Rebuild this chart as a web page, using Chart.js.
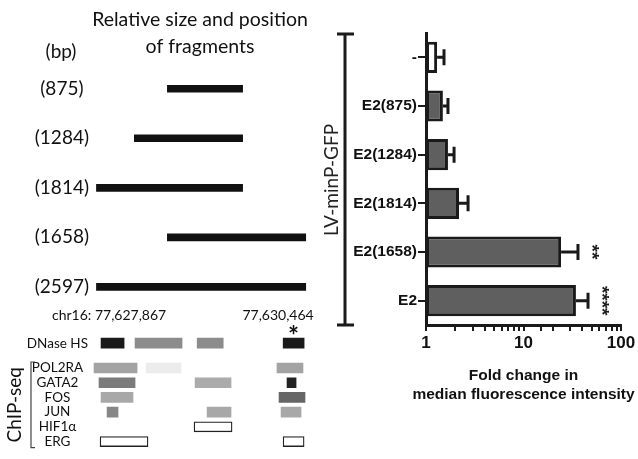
<!DOCTYPE html>
<html>
<head>
<meta charset="utf-8">
<script src="https://cdn.jsdelivr.net/npm/chart.js@4.4.1/dist/chart.umd.min.js"></script>
<style>
  body { margin: 0; background: #fff; }
  #wrap { position: relative; width: 638px; height: 459px; overflow: hidden; background: #fff; }
  canvas { position: absolute; }
  #fragChart { left: 0; top: 0; }
  #trackChart { left: 0; top: 300px; }
  #foldChart { left: 320px; top: 0; }
</style>
</head>
<body>
<div id="wrap">
  <canvas id="fragChart" width="320" height="324"></canvas>
  <canvas id="trackChart" width="320" height="159"></canvas>
  <canvas id="foldChart" width="318" height="459"></canvas>
</div>
<script>
// fragments (bp offsets from chr16:77,627,867)
const fragLabels = ['(875)', '(1284)', '(1814)', '(1658)', '(2597)'];
const fragStart = [880, 470, 0, 880, 0];
const fragEnd = [1814, 1814, 1814, 2597, 2597];
const coordStart = '77,627,867';
const coordEnd = '77,630,464';
const regionLen = 2597;

// DNase / ChIP-seq tracks
const trackNames = ['DNase HS', 'POL2RA', 'GATA2', 'FOS', 'JUN', 'HIF1\u03b1', 'ERG'];
const trackBlocks = [
  [[57, 343], [479, 1062], [1250, 1573], [2317, 2577]],
  [[-30, 504], [616, 1050], [2240, 2563]],
  [[32, 479], [1224, 1670], [2365, 2477]],
  [[57, 454], [2266, 2588]],
  [[132, 268], [1373, 1670], [2291, 2539]],
  [[1211, 1683]],
  [[45, 640], [2316, 2577]]
];
const trackShade = [
  ['#1a1a1a', '#8c8c8c', '#8c8c8c', '#1a1a1a'],
  ['#a3a3a3', '#ececec', '#a3a3a3'],
  ['#7b7b7b', '#ababab', '#222222'],
  ['#a8a8a8', '#666666'],
  ['#878787', '#a8a8a8', '#a8a8a8'],
  ['open'],
  ['open', 'open']
];
// vertical placement of the track rows (DNase row sits a bit apart)
const trackRow = [-1.69, 0, 1, 2, 3, 4, 5];

// reporter assay
const foldLabels = ['-', 'E2(875)', 'E2(1284)', 'E2(1814)', 'E2(1658)', 'E2'];
const foldMean = [1.30, 1.49, 1.68, 2.18, 24.3, 34.5];
const foldErr = [1.53, 1.68, 1.94, 2.70, 36.2, 45.9];
const foldStars = ['', '', '', '', '**', '****'];
const foldTitle = ['Fold change in', 'median fluorescence intensity'];

const calibri = 'Lato';
const arial = '"Liberation Sans", Arial, sans-serif';

const bpLabel = {
  id: 'bpLabel',
  afterDraw(chart) {
    const ctx = chart.ctx;
    ctx.save();
    ctx.fillStyle = '#111';
    ctx.font = '19px ' + calibri;
    ctx.textAlign = 'center';
    ctx.textBaseline = 'middle';
    ctx.fillText('(bp)', 61, 52);
    ctx.restore();
  }
};

new Chart(document.getElementById('fragChart'), {
  type: 'bar',
  data: {
    labels: fragLabels,
    datasets: [{
      data: fragLabels.map((l, i) => [fragStart[i], fragEnd[i]]),
      backgroundColor: '#111',
      barThickness: 7
    }]
  },
  options: {
    indexAxis: 'y',
    responsive: false,
    animation: false,
    layout: { padding: { top: 0, right: 10, left: 0, bottom: 0 } },
    plugins: {
      legend: { display: false },
      tooltip: { enabled: false },
      title: {
        display: true,
        fullSize: false,
        text: ['Relative size and position', 'of fragments'],
        color: '#111',
        font: { family: calibri, size: 19.5, weight: 'normal', lineHeight: 1.4 },
        padding: { top: 6, bottom: 3.4 }
      }
    },
    scales: {
      x: { display: false, min: -80, max: 2650 },
      y: {
        grid: { display: false, drawTicks: false },
        border: { display: false },
        ticks: { crossAlign: 'center', padding: 1, color: '#111', font: { family: calibri, size: 19 } },
        afterFit: s => { s.width = 90; }
      }
    }
  },
  plugins: [bpLabel]
});

const trackPoints = [], trackFill = [], trackEdge = [], trackEdgeW = [];
trackBlocks.forEach((blocks, r) => {
  blocks.forEach((b, j) => {
    const open = trackShade[r][j] === 'open';
    trackPoints.push({ x: b, y: trackRow[r] });
    trackFill.push(open ? '#fff' : trackShade[r][j]);
    trackEdge.push(open ? '#222' : 'rgba(0,0,0,0)');
    trackEdgeW.push(open ? 1.3 : 0);
  });
});

const trackExtras = {
  id: 'trackExtras',
  afterDraw(chart) {
    const { ctx, scales: { x, y } } = chart;
    ctx.save();
    ctx.fillStyle = '#111';
    ctx.font = '14px ' + calibri;
    ctx.textBaseline = 'middle';
    ctx.textAlign = 'left';
    ctx.fillText('chr16: ' + coordStart, 52, 15);
    ctx.textAlign = 'right';
    ctx.fillText(coordEnd, x.getPixelForValue(regionLen) + 8, 15);
    // hypersensitive site marker
    const last = trackBlocks[0][trackBlocks[0].length - 1];
    ctx.textAlign = 'center';
    ctx.textBaseline = 'alphabetic';
    ctx.font = 'bold 26px ' + calibri;
    ctx.fillText('*', x.getPixelForValue((last[0] + last[1]) / 2), 45);
    // ChIP-seq bracket
    const top = y.getPixelForValue(0) - 6, bot = y.getPixelForValue(5) + 6;
    ctx.strokeStyle = '#444';
    ctx.lineWidth = 1.2;
    ctx.beginPath();
    ctx.moveTo(35, top); ctx.lineTo(31, top); ctx.lineTo(31, bot); ctx.lineTo(35, bot);
    ctx.stroke();
    ctx.translate(15, (top + bot) / 2);
    ctx.rotate(-Math.PI / 2);
    ctx.textBaseline = 'middle';
    ctx.font = '19px ' + calibri;
    ctx.fillText('ChIP-seq', 0, 0);
    ctx.restore();
  }
};

new Chart(document.getElementById('trackChart'), {
  type: 'bar',
  data: {
    datasets: [{
      data: trackPoints,
      backgroundColor: trackFill,
      borderColor: trackEdge,
      borderWidth: trackEdgeW,
      borderSkipped: false,
      barThickness: 10
    }]
  },
  options: {
    indexAxis: 'y',
    responsive: false,
    animation: false,
    layout: { padding: { top: 34.2, right: 10, left: 0, bottom: 0 } },
    plugins: { legend: { display: false }, tooltip: { enabled: false } },
    scales: {
      x: { type: 'linear', display: false, min: -80, max: 2650 },
      y: {
        type: 'linear',
        offset: false,
        reverse: true,
        min: -2.3,
        max: 5.5,
        afterBuildTicks: s => { s.ticks = trackRow.map(v => ({ value: v })); },
        grid: { display: false, drawTicks: false },
        border: { display: false },
        ticks: {
          autoSkip: false,
          crossAlign: 'center',
          padding: 2,
          color: '#111',
          font: { family: calibri, size: 13.5 },
          callback: (v, i) => trackNames[i]
        },
        afterFit: s => { s.width = 90; }
      }
    }
  },
  plugins: [trackExtras]
});

const foldExtras = {
  id: 'foldExtras',
  afterDatasetsDraw(chart) {
    const { ctx, chartArea, scales: { x, y } } = chart;
    ctx.save();
    ctx.strokeStyle = '#1a1a1a';
    ctx.fillStyle = '#1a1a1a';
    ctx.lineWidth = 3;
    foldMean.forEach((m, i) => {
      const cy = y.getPixelForValue(i);
      const x0 = x.getPixelForValue(m), x1 = x.getPixelForValue(foldErr[i]);
      ctx.beginPath();
      ctx.moveTo(x0, cy); ctx.lineTo(x1, cy);
      ctx.moveTo(x1, cy - 8); ctx.lineTo(x1, cy + 8);
      ctx.stroke();
      if (foldStars[i]) {
        ctx.save();
        ctx.translate(x1 + 13, cy);
        ctx.rotate(Math.PI / 2);
        ctx.font = 'bold 19px ' + arial;
        ctx.textAlign = 'center';
        ctx.textBaseline = 'middle';
        ctx.fillText(foldStars[i], 0, 0);
        ctx.restore();
      }
    });
    // LV-minP-GFP bracket
    ctx.beginPath();
    ctx.moveTo(17, chartArea.top + 1); ctx.lineTo(34, chartArea.top + 1);
    ctx.moveTo(25, chartArea.top + 1); ctx.lineTo(25, chartArea.bottom);
    ctx.moveTo(17, chartArea.bottom); ctx.lineTo(34, chartArea.bottom);
    ctx.stroke();
    // axis title (wider than the plot, so drawn without maxWidth squeeze)
    ctx.fillStyle = '#111';
    ctx.font = 'bold 15.5px ' + arial;
    ctx.textAlign = 'center';
    ctx.textBaseline = 'middle';
    const cx = (x.left + x.right) / 2;
    ctx.fillText(foldTitle[0], cx, 376);
    ctx.fillText(foldTitle[1], cx, 395);
    ctx.translate(12, 180);
    ctx.rotate(-Math.PI / 2);
    ctx.fillStyle = '#222';
    ctx.font = '19px ' + calibri;
    ctx.fillText('LV-minP-GFP', 0, 0);
    ctx.restore();
  }
};

new Chart(document.getElementById('foldChart'), {
  type: 'bar',
  data: {
    labels: foldLabels,
    datasets: [{
      data: foldMean,
      backgroundColor: foldLabels.map((l, i) => i === 0 ? '#ffffff' : '#5f5f5f'),
      borderColor: '#1a1a1a',
      borderWidth: 3,
      borderSkipped: false,
      barPercentage: 0.64,
      categoryPercentage: 1
    }]
  },
  options: {
    indexAxis: 'y',
    responsive: false,
    animation: false,
    layout: { padding: { top: 33, right: 17, left: 0, bottom: 0 } },
    plugins: { legend: { display: false }, tooltip: { enabled: false } },
    scales: {
      x: {
        type: 'logarithmic',
        min: 1,
        max: 100,
        grid: { drawOnChartArea: false, drawTicks: true, tickLength: 6, color: '#1a1a1a', lineWidth: 2 },
        border: { display: true, color: '#1a1a1a', width: 3 },
        ticks: {
          autoSkip: false,
          maxRotation: 0,
          padding: 2,
          color: '#111',
          font: { family: arial, size: 17, weight: 'bold' },
          callback: v => [1, 10, 100].includes(v) ? String(v) : ''
        },
        title: { display: false },
        afterFit: s => { s.height = 134; }
      },
      y: {
        grid: { offset: false, drawOnChartArea: false, drawTicks: true, tickLength: 8, color: '#1a1a1a', lineWidth: 2 },
        border: { display: true, color: '#1a1a1a', width: 3 },
        ticks: { padding: 1, color: '#111', font: { family: arial, size: 15.5, weight: 'bold' } },
        afterFit: s => { s.width = 106; }
      }
    }
  },
  plugins: [foldExtras]
});
</script>
</body>
</html>
